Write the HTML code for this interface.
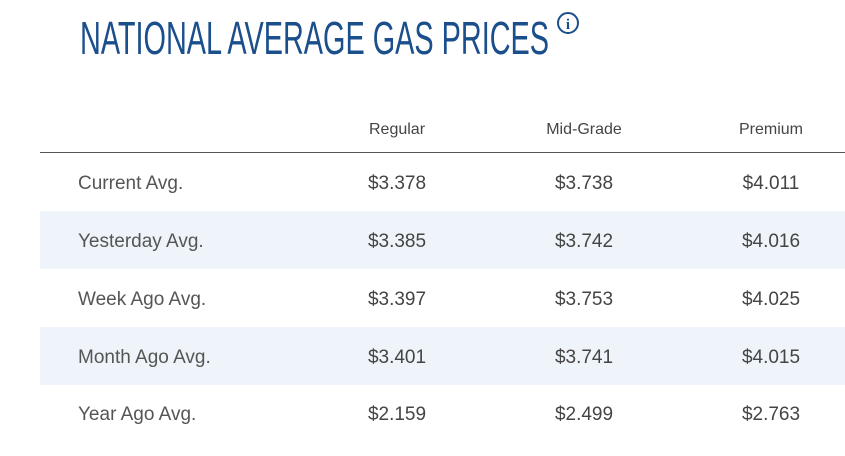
<!DOCTYPE html>
<html><head><meta charset="utf-8"><style>
body{margin:0;width:845px;height:456px;background:#fff;position:relative;overflow:hidden;font-family:"Liberation Sans",Arial,sans-serif}
.band{position:absolute;left:40px;width:805px;height:58px;background:#eef4f9}
.lab{position:absolute;left:78px;font-size:19px;color:#555;line-height:20px}
.v{position:absolute;width:140px;text-align:center;font-size:19px;color:#444;line-height:20px}
.h{position:absolute;width:140px;text-align:center;font-size:16px;color:#444;line-height:18px;top:121px}
</style></head><body>
<svg style="position:absolute;left:0;top:0" width="845" height="80">
<text x="80" y="54" textLength="469" lengthAdjust="spacingAndGlyphs" font-family="Liberation Sans, sans-serif" font-size="46" fill="#1b4f8c">NATIONAL AVERAGE GAS PRICES</text>
<circle cx="568" cy="23" r="10" fill="none" stroke="#1b4f8c" stroke-width="2"/>
<text x="568" y="29" text-anchor="middle" font-family="Liberation Serif, serif" font-weight="bold" font-size="15" fill="#1b4f8c">i</text>
</svg>
<div class="h" style="left:327px">Regular</div>
<div class="h" style="left:514px">Mid-Grade</div>
<div class="h" style="left:701px">Premium</div>
<div style="position:absolute;left:40px;top:152px;width:805px;height:1px;background:#555"></div>
<div class="band" style="top:211px"></div>
<div class="band" style="top:327px"></div>

<div class="lab" style="top:174px">Current Avg.</div>
<div class="v" style="left:327px;top:174px">$3.378</div><div class="v" style="left:514px;top:174px">$3.738</div><div class="v" style="left:701px;top:174px">$4.011</div>
<div class="lab" style="top:232px">Yesterday Avg.</div>
<div class="v" style="left:327px;top:232px">$3.385</div><div class="v" style="left:514px;top:232px">$3.742</div><div class="v" style="left:701px;top:232px">$4.016</div>
<div class="lab" style="top:290px">Week Ago Avg.</div>
<div class="v" style="left:327px;top:290px">$3.397</div><div class="v" style="left:514px;top:290px">$3.753</div><div class="v" style="left:701px;top:290px">$4.025</div>
<div class="lab" style="top:348px">Month Ago Avg.</div>
<div class="v" style="left:327px;top:348px">$3.401</div><div class="v" style="left:514px;top:348px">$3.741</div><div class="v" style="left:701px;top:348px">$4.015</div>
<div class="lab" style="top:405px">Year Ago Avg.</div>
<div class="v" style="left:327px;top:405px">$2.159</div><div class="v" style="left:514px;top:405px">$2.499</div><div class="v" style="left:701px;top:405px">$2.763</div>
</body></html>
